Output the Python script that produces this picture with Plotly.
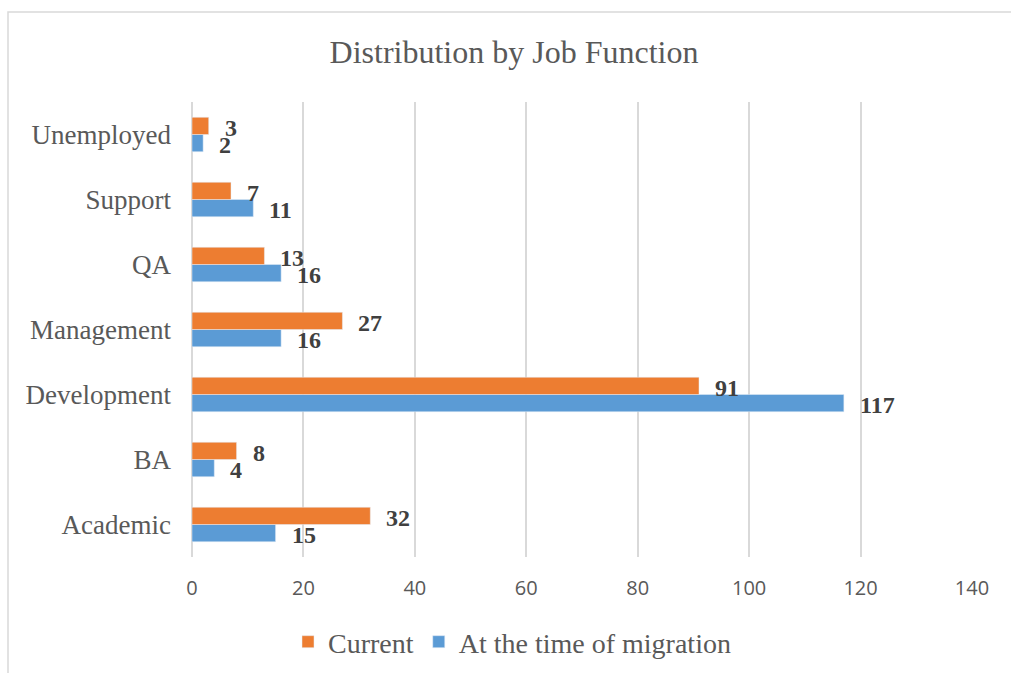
import plotly.graph_objects as go

categories = ["Academic", "BA", "Development", "Management", "QA", "Support", "Unemployed"]
current = [32, 8, 91, 27, 13, 7, 3]
at_migration = [15, 4, 117, 16, 16, 11, 2]
x_ticks = [0, 20, 40, 60, 80, 100, 120, 140]

ORANGE = "#ED7D31"
BLUE = "#5B9BD5"
SERIF = "Liberation Serif, Times New Roman, serif"
SANS = "Open Sans, Liberation Sans, sans-serif"

fig = go.Figure()
fig.add_trace(go.Bar(y=categories, x=at_migration, orientation="h", name="At the time of migration",
                     marker=dict(color=BLUE), legendrank=2))
fig.add_trace(go.Bar(y=categories, x=current, orientation="h", name="Current",
                     marker=dict(color=ORANGE), legendrank=1))

annotations = []
for cat, v in zip(categories, current):
    annotations.append(dict(x=v, y=cat, xref="x", yref="y", text=str(v), showarrow=False,
                            xanchor="left", yanchor="middle", xshift=14, yshift=7,
                            font=dict(family=SERIF, size=24, color="#404040", weight="bold")))
for cat, v in zip(categories, at_migration):
    annotations.append(dict(x=v, y=cat, xref="x", yref="y", text=str(v), showarrow=False,
                            xanchor="left", yanchor="middle", xshift=14, yshift=-10.5,
                            font=dict(family=SERIF, size=24, color="#404040", weight="bold")))

fig.update_layout(
    width=1011, height=673,
    margin=dict(l=192, r=39, t=102, b=116, autoexpand=False),
    paper_bgcolor="white", plot_bgcolor="white",
    barmode="group", bargap=0.47, bargroupgap=0,
    title=dict(text="Distribution by Job Function", x=514/1011, xanchor="center",
               y=1 - 52/673, yanchor="middle", yref="container",
               font=dict(family=SERIF, size=32, color="#595959")),
    xaxis=dict(range=[0, 140], tickvals=x_ticks, showgrid=True, gridcolor="#D9D9D9", gridwidth=1.5,
               zeroline=True, zerolinecolor="#D9D9D9", zerolinewidth=1.5, showline=False,
               tickfont=dict(family=SANS, size=20, color="#595959"), ticklabelstandoff=17),
    yaxis=dict(showgrid=False, showline=False, ticks="",
               tickfont=dict(family=SERIF, size=27, color="#595959"), ticklabelstandoff=20),
    legend=dict(orientation="h", x=(512-192)/780, xanchor="center", y=(557-642)/455, yanchor="middle",
                font=dict(family=SERIF, size=28, color="#595959"), traceorder="normal"),
    annotations=annotations,
    shapes=[dict(type="rect", xref="paper", yref="paper",
                 x0=(8-192)/780, x1=(1030-192)/780, y0=(557-690)/455, y1=(557-12)/455,
                 line=dict(color="#D9D9D9", width=1.5), fillcolor="rgba(0,0,0,0)", layer="below")],
    showlegend=True,
)

fig.write_html("out.html")
